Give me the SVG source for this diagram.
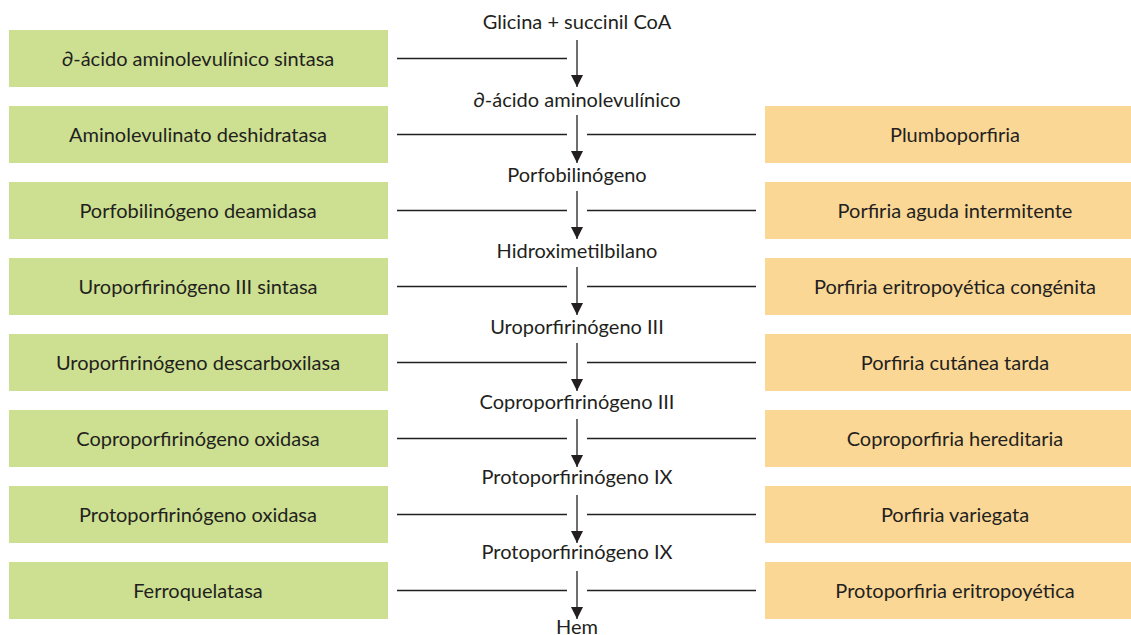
<svg xmlns="http://www.w3.org/2000/svg" width="1131" height="635" viewBox="0 0 1131 635">
<defs>
<style>
text{font-family:"Lato","Liberation Sans",sans-serif;font-size:20px;fill:#231f20;text-anchor:middle;dominant-baseline:central}
.g{fill:#cddf90}
.o{fill:#fbd796}
.ln{stroke:#231f20;stroke-width:1.3;fill:none}
</style>
<marker id="ah" viewBox="0 0 12 12" refX="12" refY="6" markerWidth="12" markerHeight="12" markerUnits="userSpaceOnUse" orient="auto">
<path d="M0,0 L12,6 L0,12 Z" fill="#231f20"/>
</marker>
</defs>
<rect width="1131" height="635" fill="#ffffff"/>
<g id="enzymes">
<g id="e1"><rect class="g" x="9" y="30" width="379" height="57"/><text x="198" y="58">∂-ácido aminolevulínico sintasa</text></g>
<g id="e2"><rect class="g" x="9" y="106" width="379" height="57"/><text x="198" y="134">Aminolevulinato deshidratasa</text></g>
<g id="e3"><rect class="g" x="9" y="182" width="379" height="57"/><text x="198" y="210">Porfobilinógeno deamidasa</text></g>
<g id="e4"><rect class="g" x="9" y="258" width="379" height="57"/><text x="198" y="286">Uroporfirinógeno III sintasa</text></g>
<g id="e5"><rect class="g" x="9" y="334" width="379" height="57"/><text x="198" y="362">Uroporfirinógeno descarboxilasa</text></g>
<g id="e6"><rect class="g" x="9" y="410" width="379" height="57"/><text x="198" y="438">Coproporfirinógeno oxidasa</text></g>
<g id="e7"><rect class="g" x="9" y="486" width="379" height="57"/><text x="198" y="514">Protoporfirinógeno oxidasa</text></g>
<g id="e8"><rect class="g" x="9" y="562" width="379" height="57"/><text x="198" y="590">Ferroquelatasa</text></g>
</g>
<g id="diseases">
<g id="d2"><rect class="o" x="765" y="106" width="381" height="57"/><text x="955" y="134">Plumboporfiria</text></g>
<g id="d3"><rect class="o" x="765" y="182" width="381" height="57"/><text x="955" y="210">Porfiria aguda intermitente</text></g>
<g id="d4"><rect class="o" x="765" y="258" width="381" height="57"/><text x="955" y="286">Porfiria eritropoyética congénita</text></g>
<g id="d5"><rect class="o" x="765" y="334" width="381" height="57"/><text x="955" y="362">Porfiria cutánea tarda</text></g>
<g id="d6"><rect class="o" x="765" y="410" width="381" height="57"/><text x="955" y="438">Coproporfiria hereditaria</text></g>
<g id="d7"><rect class="o" x="765" y="486" width="381" height="57"/><text x="955" y="514">Porfiria variegata</text></g>
<g id="d8"><rect class="o" x="765" y="562" width="381" height="57"/><text x="955" y="590">Protoporfiria eritropoyética</text></g>
</g>
<g id="metabolites">
<g id="m0"><text x="577" y="21">Glicina + succinil CoA</text></g>
<g id="m1"><text x="577" y="99">∂-ácido aminolevulínico</text></g>
<g id="m2"><text x="577" y="174">Porfobilinógeno</text></g>
<g id="m3"><text x="577" y="250">Hidroximetilbilano</text></g>
<g id="m4"><text x="577" y="326">Uroporfirinógeno III</text></g>
<g id="m5"><text x="577" y="401">Coproporfirinógeno III</text></g>
<g id="m6"><text x="577" y="476">Protoporfirinógeno  IX</text></g>
<g id="m7"><text x="577" y="551">Protoporfirinógeno  IX</text></g>
<g id="m8"><text x="577" y="626">Hem</text></g>
</g>
<g id="connectors">
<line class="ln" x1="577" y1="40" x2="577" y2="87" marker-end="url(#ah)"/>
<line class="ln" x1="577" y1="115" x2="577" y2="163" marker-end="url(#ah)"/>
<line class="ln" x1="577" y1="191" x2="577" y2="239" marker-end="url(#ah)"/>
<line class="ln" x1="577" y1="267" x2="577" y2="315" marker-end="url(#ah)"/>
<line class="ln" x1="577" y1="343" x2="577" y2="391" marker-end="url(#ah)"/>
<line class="ln" x1="577" y1="419" x2="577" y2="467" marker-end="url(#ah)"/>
<line class="ln" x1="577" y1="495" x2="577" y2="543" marker-end="url(#ah)"/>
<line class="ln" x1="577" y1="571" x2="577" y2="619" marker-end="url(#ah)"/>
<line class="ln" x1="397" y1="58.5" x2="567" y2="58.5"/>
<line class="ln" x1="397" y1="134.5" x2="567" y2="134.5"/>
<line class="ln" x1="587" y1="134.5" x2="756" y2="134.5"/>
<line class="ln" x1="397" y1="210.5" x2="567" y2="210.5"/>
<line class="ln" x1="587" y1="210.5" x2="756" y2="210.5"/>
<line class="ln" x1="397" y1="286.5" x2="567" y2="286.5"/>
<line class="ln" x1="587" y1="286.5" x2="756" y2="286.5"/>
<line class="ln" x1="397" y1="362.5" x2="567" y2="362.5"/>
<line class="ln" x1="587" y1="362.5" x2="756" y2="362.5"/>
<line class="ln" x1="397" y1="438.5" x2="567" y2="438.5"/>
<line class="ln" x1="587" y1="438.5" x2="756" y2="438.5"/>
<line class="ln" x1="397" y1="514.5" x2="567" y2="514.5"/>
<line class="ln" x1="587" y1="514.5" x2="756" y2="514.5"/>
<line class="ln" x1="397" y1="590.5" x2="567" y2="590.5"/>
<line class="ln" x1="587" y1="590.5" x2="756" y2="590.5"/>
</g>
</svg>
